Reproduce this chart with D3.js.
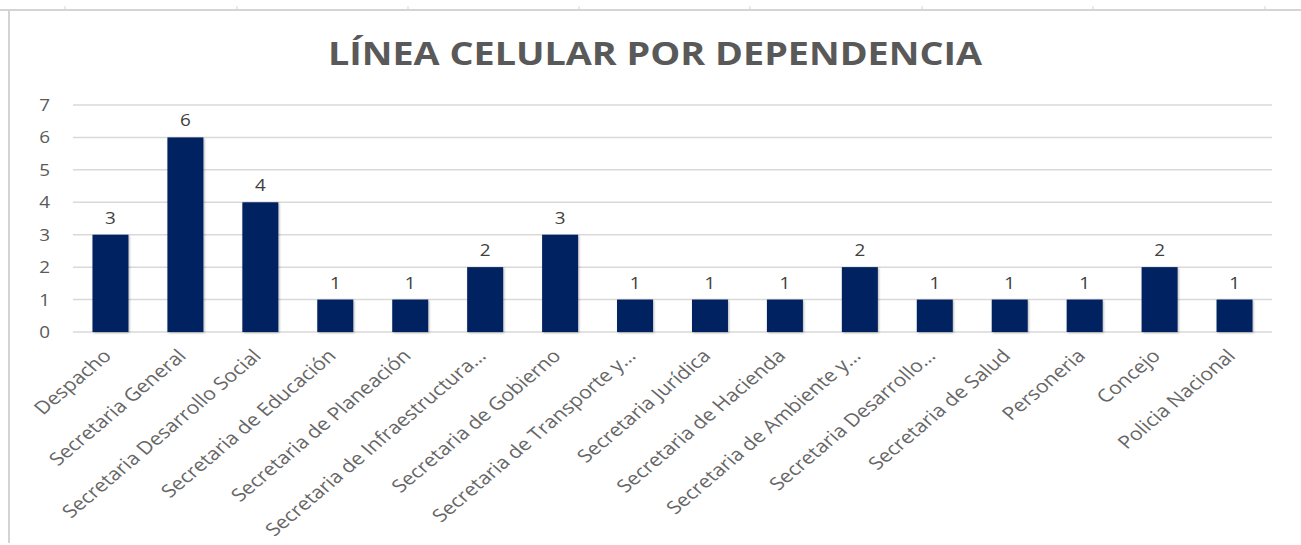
<!DOCTYPE html>
<html>
<head>
<meta charset="utf-8">
<script src="https://cdn.jsdelivr.net/npm/d3@7"></script>
<style>
  body { margin: 0; background: #fff; }
  svg { display: block; }
</style>
</head>
<body>
<div id="chart"></div>
<script>
var categories = ["Despacho", "Secretaria General", "Secretaria Desarrollo Social",
  "Secretaria de Educación", "Secretaria de Planeación", "Secretaria de Infraestructura…",
  "Secretaria de Gobierno", "Secretaria de Transporte y…", "Secretaria Jurídica",
  "Secretaria de Hacienda", "Secretaria de Ambiente y…", "Secretaria Desarrollo…",
  "Secretaria de Salud", "Personeria", "Concejo", "Policia Nacional"];
var values = [3, 6, 4, 1, 1, 2, 3, 1, 1, 1, 2, 1, 1, 1, 2, 1];
var yTicks = [0, 1, 2, 3, 4, 5, 6, 7];

function init(){
    var w = 1301;
    var h = 545;
    var margin = {left: 73, right: 29, top: 105, bottom: 213};
    var sx = 1.18; // the picture is a bit wider than tall

    var svg = d3.select("#chart")
                .append("svg")
                .attr("width", w)
                .attr("height", h);

    // spreadsheet frame behind the chart
    svg.append("line")
       .attr("x1", 0).attr("x2", w).attr("y1", 10).attr("y2", 10)
       .attr("stroke", "#d4d4d4").attr("stroke-width", 2);
    svg.append("line")
       .attr("x1", 9).attr("x2", 9).attr("y1", 10).attr("y2", 543)
       .attr("stroke", "#d4d4d4").attr("stroke-width", 2);
    [65, 237, 408, 579, 750, 922, 1093, 1265].forEach(function(x){
        svg.append("line")
           .attr("x1", x).attr("x2", x).attr("y1", 6).attr("y2", 10)
           .attr("stroke", "#d4d4d4");
    });

    var x = d3.scaleBand()
              .domain(categories)
              .range([margin.left, w - margin.right])
              .paddingInner(0.52)
              .paddingOuter(0.26);

    var y = d3.scaleLinear()
              .domain([0, 7])
              .range([h - margin.bottom, margin.top]);

    //Title
    svg.append("text")
       .attr("transform", "translate(655,65) scale(" + sx + ",1)")
       .attr("text-anchor", "middle")
       .attr("font-family", "'Open Sans', sans-serif")
       .attr("font-weight", "bold")
       .attr("font-size", "32px")
       .attr("fill", "#595959")
       .text("LÍNEA CELULAR POR DEPENDENCIA");

    //Gridlines
    svg.append("g")
       .selectAll("line")
       .data(yTicks)
       .enter()
       .append("line")
       .attr("x1", margin.left)
       .attr("x2", w - margin.right)
       .attr("y1", function(d){ return y(d); })
       .attr("y2", function(d){ return y(d); })
       .attr("stroke", "#d9d9d9")
       .attr("stroke-width", 1.5);

    //Y axis labels
    svg.append("g")
       .selectAll("text")
       .data(yTicks)
       .enter()
       .append("text")
       .attr("transform", function(d){ return "translate(50," + (y(d) + 6) + ") scale(" + sx + ",1)"; })
       .attr("text-anchor", "end")
       .attr("font-family", "'Open Sans', sans-serif")
       .attr("font-size", "16px")
       .attr("fill", "#595959")
       .text(d3.format("d"));

    //Bars
    var defs = svg.append("defs");
    var f = defs.append("filter").attr("id", "sh")
                .attr("x", "-20%").attr("y", "-20%").attr("width", "140%").attr("height", "140%");
    f.append("feDropShadow").attr("dx", 1).attr("dy", 1).attr("stdDeviation", 1.2)
     .attr("flood-color", "#000").attr("flood-opacity", 0.3);

    svg.append("g")
       .selectAll("rect")
       .data(values)
       .enter()
       .append("rect")
       .attr("x", function(d, i){ return x(categories[i]); })
       .attr("y", function(d){ return y(d); })
       .attr("width", x.bandwidth())
       .attr("height", function(d){ return y(0) - y(d); })
       .attr("fill", "#002060")
       .attr("filter", "url(#sh)");

    //Data labels
    svg.append("g")
       .selectAll("text")
       .data(values)
       .enter()
       .append("text")
       .attr("transform", function(d, i){
           return "translate(" + (x(categories[i]) + x.bandwidth() / 2) + "," + (y(d) - 11) + ") scale(" + sx + ",1)";
       })
       .attr("text-anchor", "middle")
       .attr("font-family", "'Open Sans', sans-serif")
       .attr("font-size", "16px")
       .attr("fill", "#404040")
       .text(function(d){ return d; });

    //Category labels
    svg.append("g")
       .selectAll("text")
       .data(categories)
       .enter()
       .append("text")
       .attr("transform", function(d){
           return "translate(" + (x(d) + x.bandwidth() / 2 + 2) + "," + (y(0) + 25) + ") scale(" + sx + ",1) rotate(-45)";
       })
       .attr("text-anchor", "end")
       .attr("font-family", "'Open Sans', sans-serif")
       .attr("font-size", "18px")
       .attr("fill", "#666666")
       .text(function(d){ return d; });
}
window.onload = init;
</script>
</body>
</html>
